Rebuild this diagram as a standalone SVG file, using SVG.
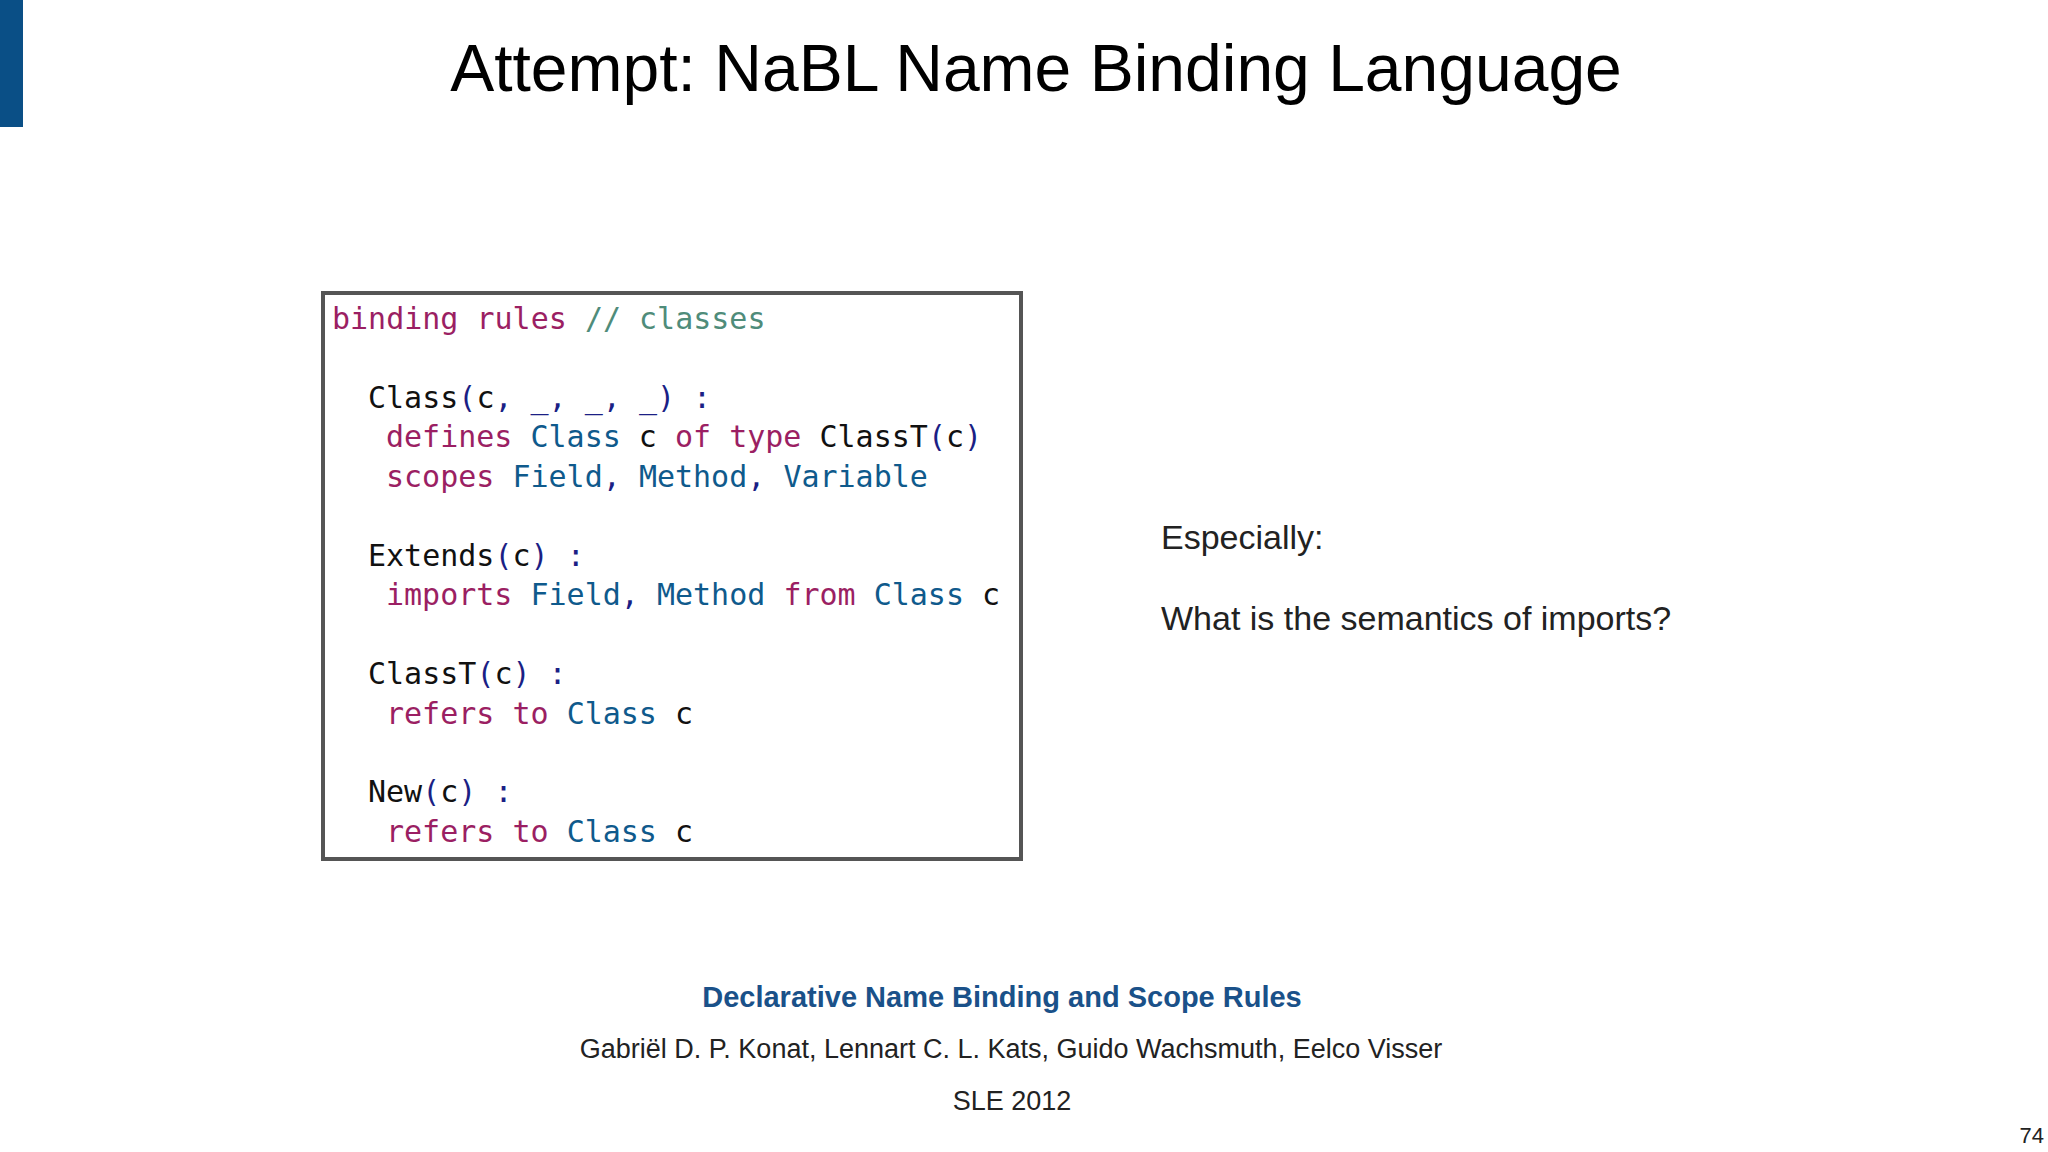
<svg xmlns="http://www.w3.org/2000/svg" width="2048" height="1152" viewBox="0 0 2048 1152">
<style>
.code{font-family:"DejaVu Sans Mono",monospace;font-size:30px;fill:#111}
.k{fill:#9b1f63}.t{fill:#0f5a8c}.p{fill:#1b1f85}.c{fill:#4f8c7a}
.s{font-family:"Liberation Sans",Arial,sans-serif}
</style>
<rect width="2048" height="1152" fill="#fff"/>
<rect x="0" y="0" width="23" height="127" fill="#0a4f86"/>
<text class="s" x="1036" y="91" font-size="66" text-anchor="middle" fill="#000">Attempt: NaBL Name Binding Language</text>
<g id="code">
<rect x="323" y="293" width="698" height="566" fill="#fff" stroke="#555" stroke-width="4"/>
<text class="code" xml:space="preserve">
<tspan x="332" y="329"><tspan class="k">binding rules</tspan> <tspan class="c">// classes</tspan></tspan>
<tspan x="368" y="408">Class<tspan class="p">(</tspan>c<tspan class="p">, _, _, _) :</tspan></tspan>
<tspan x="386" y="447"><tspan class="k">defines</tspan> <tspan class="t">Class</tspan> c <tspan class="k">of type</tspan> ClassT<tspan class="p">(</tspan>c<tspan class="p">)</tspan></tspan>
<tspan x="386" y="487"><tspan class="k">scopes</tspan> <tspan class="t">Field</tspan><tspan class="p">,</tspan> <tspan class="t">Method</tspan><tspan class="p">,</tspan> <tspan class="t">Variable</tspan></tspan>
<tspan x="368" y="566">Extends<tspan class="p">(</tspan>c<tspan class="p">) :</tspan></tspan>
<tspan x="386" y="605"><tspan class="k">imports</tspan> <tspan class="t">Field</tspan><tspan class="p">,</tspan> <tspan class="t">Method</tspan> <tspan class="k">from</tspan> <tspan class="t">Class</tspan> c</tspan>
<tspan x="368" y="684">ClassT<tspan class="p">(</tspan>c<tspan class="p">) :</tspan></tspan>
<tspan x="386" y="724"><tspan class="k">refers to</tspan> <tspan class="t">Class</tspan> c</tspan>
<tspan x="368" y="802">New<tspan class="p">(</tspan>c<tspan class="p">) :</tspan></tspan>
<tspan x="386" y="842"><tspan class="k">refers to</tspan> <tspan class="t">Class</tspan> c</tspan>
</text>
</g>
<g id="note" class="s" font-size="34" fill="#222">
<text x="1161" y="549">Especially:</text>
<text x="1161" y="630">What is the semantics of imports?</text>
</g>
<g id="ref" class="s" text-anchor="middle">
<text x="1002" y="1007" font-size="29" font-weight="bold" fill="#1a5189">Declarative Name Binding and Scope Rules</text>
<text x="1011" y="1058" font-size="27" fill="#222">Gabriël D. P. Konat, Lennart C. L. Kats, Guido Wachsmuth, Eelco Visser</text>
<text x="1012" y="1110" font-size="27" fill="#222">SLE 2012</text>
</g>
<text class="s" x="2044" y="1143" font-size="22" text-anchor="end" fill="#222">74</text>
</svg>
